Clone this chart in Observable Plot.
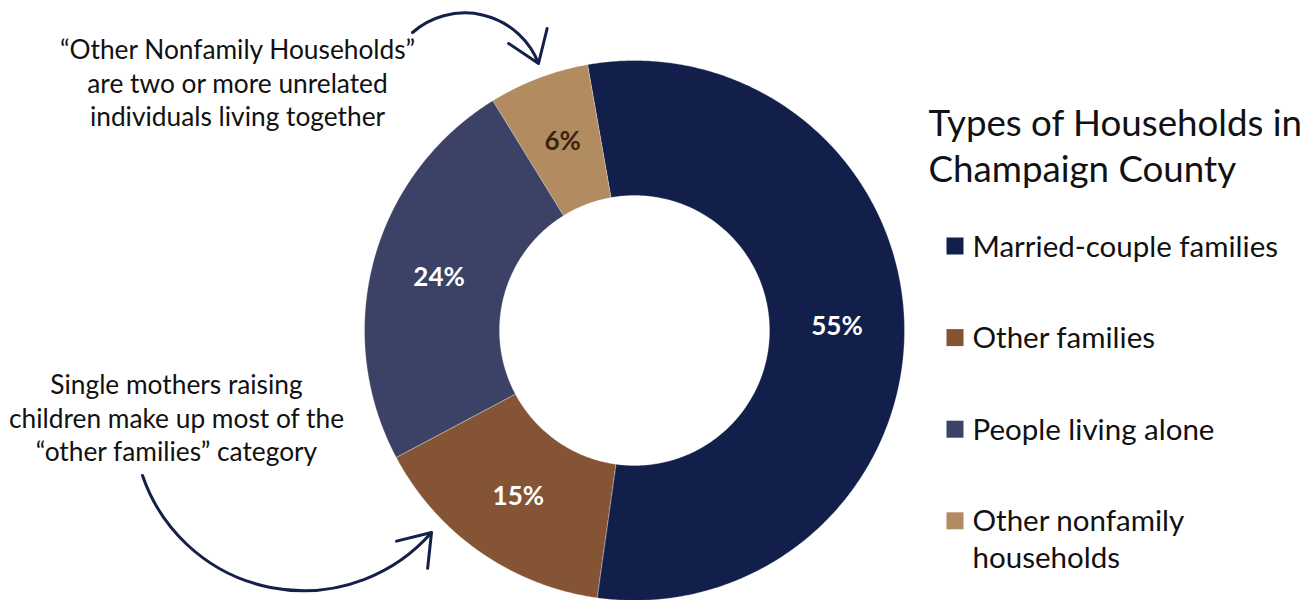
<!DOCTYPE html>
<html>
<head>
<meta charset="utf-8">
<script src="https://cdn.jsdelivr.net/npm/d3@7"></script>
<script src="https://cdn.jsdelivr.net/npm/@observablehq/plot@0.6"></script>
<style>
  html, body { margin: 0; padding: 0; background: #fff; }
  #chart svg { display: block; }
</style>
</head>
<body>
<div id="chart"></div>
<script>
// ---- Data ----
const categories = ["Married-couple families", "Other families", "People living alone", "Other nonfamily households"];
const shares = [55, 15, 24, 6];
const shareLabels = ["55%", "15%", "24%", "6%"];
const legendLabels = ["Married-couple families", "Other families", "People living alone", "Other nonfamily\nhouseholds"];
const palette = ["#121f4a", "#855434", "#3c4265", "#b38b60"];
const legendTitle = "Types of Households in\nChampaign County";
const note1 = "\u201cOther Nonfamily Households\u201d\nare two or more unrelated\nindividuals living together";
const note2 = "Single mothers raising\nchildren make up most of the\n\u201cother families\u201d category";

// ---- Geometry (layout) ----
const W = 1312, H = 600;
const cx = 634, cy = 330, rOuter = 270, rInner = 135;
const startDeg = -10;
const FONT = "Lato, 'Open Sans', sans-serif";

const pie = d3.pie().sort(null).value(d => d.value)
  .startAngle(startDeg * Math.PI / 180)
  .endAngle(startDeg * Math.PI / 180 + 2 * Math.PI);
const rows = categories.map((c, i) => ({category: c, value: shares[i], label: shareLabels[i]}));
const arcs = pie(rows);

const pt = (a, r) => [cx + r * Math.sin(a), cy - r * Math.cos(a)];
const polygon = [];
for (const a of arcs) {
  const n = Math.max(8, Math.ceil((a.endAngle - a.startAngle) / (Math.PI / 360)));
  for (let k = 0; k <= n; k++) {
    const t = a.startAngle + (a.endAngle - a.startAngle) * k / n;
    const [x, y] = pt(t, rOuter);
    polygon.push({category: a.data.category, x, y});
  }
  for (let k = n; k >= 0; k--) {
    const t = a.startAngle + (a.endAngle - a.startAngle) * k / n;
    const [x, y] = pt(t, rInner);
    polygon.push({category: a.data.category, x, y});
  }
}
const centroids = arcs.map(a => {
  const m = (a.startAngle + a.endAngle) / 2;
  const [x, y] = pt(m, (rOuter + rInner) / 2);
  return {category: a.data.category, label: a.data.label, x, y};
});
const legendRows = categories.map((c, i) => ({category: c, label: legendLabels[i], i}));
const legendY = i => 245.5 + i * 91.6;

const chart = Plot.plot({
  width: W,
  height: H,
  margin: 0,
  style: {fontFamily: FONT, background: "#fff", overflow: "visible"},
  x: {domain: [0, W], range: [0, W], axis: null},
  y: {domain: [0, H], range: [0, H], axis: null},
  color: {domain: categories, range: palette},
  marks: [
    Plot.line(polygon, {x: "x", y: "y", z: "category", fill: "category", stroke: "white", strokeOpacity: 0.6, strokeWidth: 0.5, curve: "linear-closed"}),
    Plot.text(centroids, {
      x: "x", y: "y", text: "label",
      fill: d => d.category === categories[3] ? "#3b2410" : "white",
      fontSize: 26, fontWeight: "bold", fontFamily: FONT
    }),
    // Legend
    Plot.text([legendTitle], {x: () => 928, y: () => 103, text: d => d, textAnchor: "start", lineAnchor: "top",
      fontSize: 36.7, lineHeight: 1.25, fill: "#111", fontFamily: FONT}),
    Plot.dot(legendRows, {x: () => 954.5, y: d => legendY(d.i), fill: "category", symbol: "square", r: 9.6}),
    Plot.text(legendRows, {x: () => 972, y: d => legendY(d.i) - 15.6, text: "label", textAnchor: "start", lineAnchor: "top",
      fontSize: 29.5, lineHeight: 1.25, fill: "#111", fontFamily: FONT}),
    // Annotations
    Plot.text([note1], {x: () => 237, y: () => 35, text: d => d, textAnchor: "middle", lineAnchor: "top",
      fontSize: 26.3, lineHeight: 1.27, fill: "#111", fontFamily: FONT}),
    Plot.text([note2], {x: () => 176, y: () => 370, text: d => d, textAnchor: "middle", lineAnchor: "top",
      fontSize: 26.3, lineHeight: 1.27, fill: "#111", fontFamily: FONT}),
    Plot.arrow([0], {x1: () => 412, y1: () => 32, x2: () => 538, y2: () => 63, bend: 55,
      stroke: "#14204a", strokeWidth: 3, headLength: 18, headAngle: 70}),
    Plot.arrow([0], {x1: () => 142, y1: () => 475, x2: () => 431, y2: () => 532, bend: -60,
      stroke: "#14204a", strokeWidth: 3, headLength: 18, headAngle: 70})
  ]
});
document.getElementById("chart").appendChild(chart);
</script>
</body>
</html>
